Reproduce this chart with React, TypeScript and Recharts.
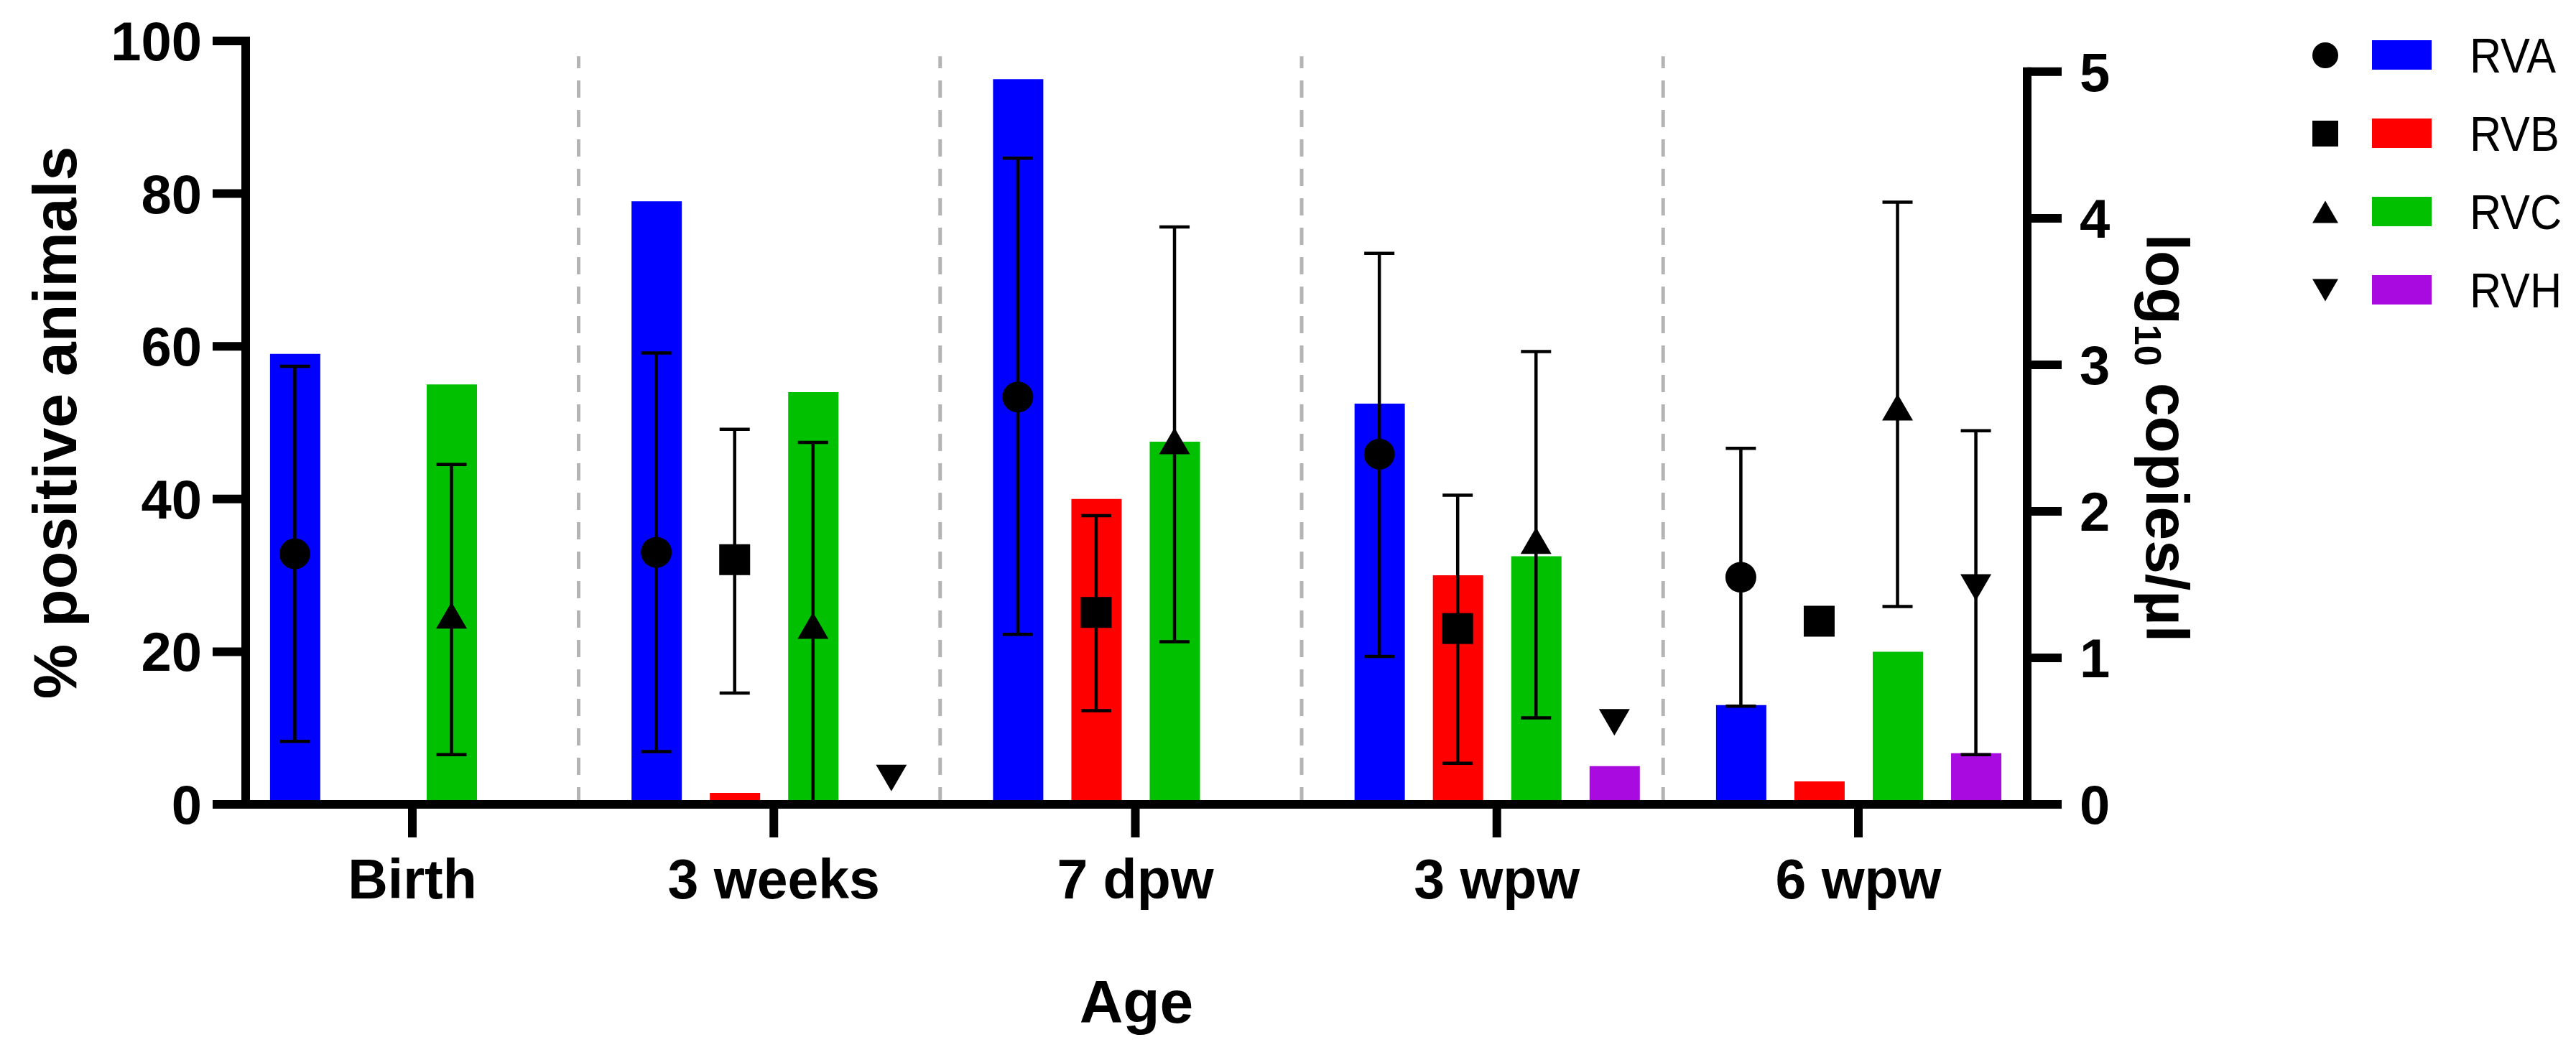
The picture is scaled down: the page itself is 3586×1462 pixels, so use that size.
import React from "react";
import {
  ComposedChart,
  Bar,
  Scatter,
  XAxis,
  YAxis,
  ErrorBar,
  Cell,
  ReferenceLine,
  Legend,
  Label,
} from "recharts";

const ages = ["Birth", "3 weeks", "7 dpw", "3 wpw", "6 wpw"];
const viruses = ["RVA", "RVB", "RVC", "RVH"];
const colors = ["#0000FF", "#FF0000", "#00C000", "#A80AE0"];
const shapes = ["circle", "square", "triangle", "triangleDown"];

// % positive animals (bars), one value per age
const pctRVA = [59, 79, 95, 52.5, 13];
const pctRVB = [0, 1.5, 40, 30, 3];
const pctRVC = [55, 54, 47.5, 32.5, 20];
const pctRVH = [0, 0, 0, 5, 6.7];

// log10 copies/µl (symbols) with error-bar ends; null = nothing drawn
const logRVA = [1.71, 1.72, 2.78, 2.39, 1.55];
const loRVA = [0.43, 0.36, 1.16, 1.01, 0.67];
const hiRVA = [2.99, 3.08, 4.41, 3.76, 2.43];
const logRVB = [null, 1.67, 1.31, 1.2, 1.25];
const loRVB = [null, 0.76, 0.64, 0.28, null];
const hiRVB = [null, 2.56, 1.97, 2.11, null];
const logRVC = [1.29, 1.22, 2.48, 1.8, 2.71];
const loRVC = [0.34, 0, 1.11, 0.59, 1.35];
const hiRVC = [2.32, 2.47, 3.94, 3.09, 4.11];
const logRVH = [null, 0.18, null, 0.56, 1.48];
const loRVH = [null, null, null, null, 0.34];
const hiRVH = [null, null, null, null, 2.55];

const leftTicks = [0, 20, 40, 60, 80, 100];
const rightTicks = [0, 1, 2, 3, 4, 5];

const pctSeries = [pctRVA, pctRVB, pctRVC, pctRVH];
const logSeries = [
  [logRVA, loRVA, hiRVA],
  [logRVB, loRVB, hiRVB],
  [logRVC, loRVC, hiRVC],
  [logRVH, loRVH, hiRVH],
];

// layout
const SLOT = 0.2167;
const X_MIN = -0.461;
const X_MAX = 4.467;
const RIGHT_MAX = 5.21;
const SEP = 0.46;
const FONT = "'Liberation Sans', Arial, sans-serif";

const slotX = (g: number, s: number) => g + (s - 1.5) * SLOT;

const barRows = ages.flatMap((_, g) =>
  pctSeries.map((vals, s) => ({ x: slotX(g, s), pct: vals[g], virus: s }))
);

const pointRows = logSeries.map(([vals, lo, hi], s) =>
  ages
    .map((_, g) => {
      const v = vals[g];
      if (v == null) return null;
      const l = lo[g];
      const h = hi[g];
      return {
        x: slotX(g, s),
        y: v,
        err: l == null || h == null ? undefined : [v - l, h - v],
      };
    })
    .filter(Boolean)
);

const Marker = ({ kind, cx, cy, size }: any) => {
  const r = size / 2;
  if (kind === "circle") return <circle cx={cx} cy={cy} r={r} fill="#000" />;
  if (kind === "square")
    return <rect x={cx - r} y={cy - r} width={size} height={size} fill="#000" />;
  const h = size * 0.86;
  if (kind === "triangle")
    return (
      <polygon
        points={`${cx},${cy - h / 2} ${cx - r},${cy + h / 2} ${cx + r},${cy + h / 2}`}
        fill="#000"
      />
    );
  return (
    <polygon
      points={`${cx - r},${cy - h / 2} ${cx + r},${cy - h / 2} ${cx},${cy + h / 2}`}
      fill="#000"
    />
  );
};

const renderLegend = () => (
  <svg width={386} height={460} style={{ fontFamily: FONT }}>
    {viruses.map((v, i) => {
      const y = 77 + i * 109;
      return (
        <g key={v}>
          <Marker kind={shapes[i]} cx={37} cy={y} size={36} />
          <rect x={102} y={y - 21} width={83} height={41} fill={colors[i]} />
          <text
            transform={`translate(238, ${y + 24}) scale(0.9, 1)`}
            fontSize={68}
            fill="#000"
          >
            {v}
          </text>
        </g>
      );
    })}
  </svg>
);

const LeftTitle = ({ viewBox }: any) => (
  <text
    x={106}
    y={viewBox.y + viewBox.height / 2}
    transform={`rotate(-90, 106, ${viewBox.y + viewBox.height / 2})`}
    textAnchor="middle"
    fontSize={86}
    fontWeight="bold"
    fill="#000"
  >
    % positive animals
  </text>
);

const RightTitle = ({ viewBox }: any) => {
  const x = viewBox.x + 166;
  const y = viewBox.y + viewBox.height - (viewBox.height * 2.5) / RIGHT_MAX;
  return (
    <text
      x={x}
      y={y}
      transform={`rotate(90, ${x}, ${y})`}
      textAnchor="middle"
      fontSize={84}
      fontWeight="bold"
      fill="#000"
    >
      log
      <tspan fontSize={52} dy={16}>
        10
      </tspan>
      <tspan dy={-16}> copies/µl</tspan>
    </text>
  );
};

export default function App() {
  return (
    <div style={{ position: "absolute", left: 0, top: 0, fontFamily: FONT, background: "#fff" }}>
      <ComposedChart
        width={3586}
        height={1462}
        data={barRows}
        margin={{ top: 57, right: 564, bottom: 0, left: 0 }}
      >
        <XAxis
          type="number"
          dataKey="x"
          domain={[X_MIN, X_MAX]}
          allowDataOverflow
          ticks={[0, 1, 2, 3, 4]}
          interval={0}
          tickFormatter={(i: number) => ages[i]}
          height={342}
          tickSize={46}
          tickMargin={30}
          axisLine={{ stroke: "#000", strokeWidth: 12 }}
          tickLine={{ stroke: "#000", strokeWidth: 12 }}
          tick={{ fontSize: 77, fontWeight: "bold", fill: "#000" }}
        >
          <Label value="Age" position="insideBottom" offset={38} fontSize={84} fontWeight="bold" fill="#000" />
        </XAxis>
        <YAxis
          yAxisId="left"
          orientation="left"
          domain={[0, 100]}
          ticks={leftTicks}
          interval={0}
          width={342}
          tickSize={46}
          tickMargin={15}
          axisLine={{ stroke: "#000", strokeWidth: 12, strokeLinecap: "square" }}
          tickLine={{ stroke: "#000", strokeWidth: 12 }}
          tick={{ fontSize: 76, fontWeight: "bold", fill: "#000" }}
        >
          <Label content={<LeftTitle />} />
        </YAxis>
        <YAxis
          yAxisId="right"
          orientation="right"
          dataKey="y"
          domain={[0, RIGHT_MAX]}
          ticks={rightTicks}
          interval={0}
          width={200}
          tickSize={48}
          tickMargin={25}
          axisLine={false}
          tickLine={{ stroke: "#000", strokeWidth: 12 }}
          tick={{ fontSize: 76, fontWeight: "bold", fill: "#000" }}
        >
          <Label content={<RightTitle />} />
        </YAxis>

        {[0, 1, 2, 3].map((g) => (
          <ReferenceLine
            key={g}
            yAxisId="left"
            segment={[
              { x: g + SEP, y: 0 },
              { x: g + SEP, y: 98 },
            ]}
            stroke="#b4b4b4"
            strokeWidth={5}
            strokeDasharray="24 17"
          />
        ))}

        <ReferenceLine
          yAxisId="right"
          segment={[
            { x: X_MAX, y: 0 },
            { x: X_MAX, y: 5 },
          ]}
          stroke="#000"
          strokeWidth={12}
          strokeLinecap="square"
          ifOverflow="visible"
        />

        <Bar yAxisId="left" dataKey="pct" barSize={70} isAnimationActive={false}>
          {barRows.map((r, i) => (
            <Cell key={i} fill={colors[r.virus]} />
          ))}
        </Bar>

        {viruses.map((v, s) => (
          <Scatter
            key={v}
            name={v}
            yAxisId="right"
            data={pointRows[s]}
            dataKey="y"
            isAnimationActive={false}
            shape={(p: any) => <Marker kind={shapes[s]} cx={p.cx} cy={p.cy} size={43} />}
          >
            <ErrorBar dataKey="err" direction="y" width={21} strokeWidth={4.5} stroke="#000" />
          </Scatter>
        ))}

        <Legend
          layout="vertical"
          align="center"
          verticalAlign="middle"
          wrapperStyle={{ left: 3200, top: 0 }}
          content={renderLegend}
        />
      </ComposedChart>
    </div>
  );
}
